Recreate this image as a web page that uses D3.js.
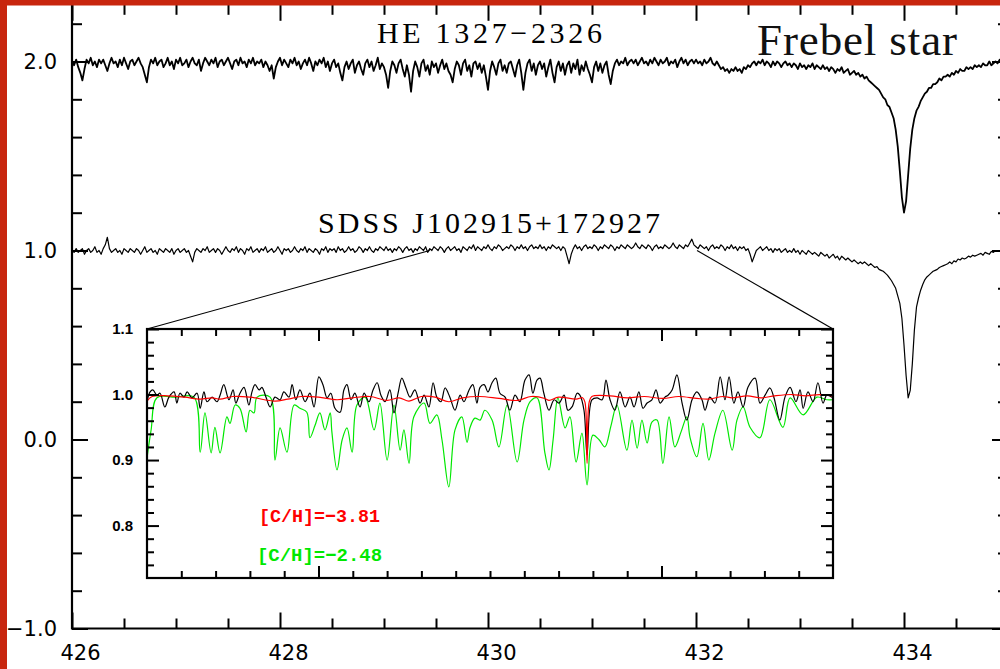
<!DOCTYPE html>
<html><head><meta charset="utf-8">
<script src="https://cdn.jsdelivr.net/npm/d3@7"></script>
<style>body{margin:0;background:#fff}svg{display:block}</style>
</head><body>
<svg id="c" width="1000" height="669"></svg>
<script>
// ---------------- DATA ----------------
const wlStart = 426.0, wlStep = 0.02;
const spectrumNames = ["HE 1327\u22122326", "SDSS J102915+172927"];
const starName = "Frebel star";
const spectrumOffsets = [1.0, 0.0];
const heFlux = [
1.00,0.98,1.01,0.97,0.94,0.90,0.96,1.01,0.99,1.02,0.98,1.00,0.97,1.01,0.99,
1.01,0.98,0.95,0.99,1.02,0.99,1.00,0.97,1.01,0.98,1.02,0.99,0.96,1.00,1.01,
0.98,1.00,1.02,0.99,0.97,0.93,0.89,0.97,1.01,0.99,1.02,0.98,1.00,1.01,0.97,
0.99,1.02,0.98,1.00,0.96,1.01,0.99,1.02,0.98,0.99,1.01,0.97,1.00,1.02,0.99,
0.98,1.01,0.95,0.99,1.02,1.00,0.98,1.01,0.99,1.02,0.97,1.00,1.01,0.98,1.00,
1.02,0.99,0.96,1.00,1.01,0.98,1.02,0.99,1.00,0.97,1.01,0.99,1.02,0.98,1.00,
0.99,1.01,0.97,1.00,0.98,0.95,0.98,0.91,0.97,1.00,1.02,0.98,1.01,0.99,0.97,
1.01,0.99,1.02,0.98,1.00,0.96,0.99,1.01,0.98,1.02,0.99,0.95,1.00,0.98,1.01,
0.99,1.02,0.97,1.00,0.95,0.99,1.01,0.97,0.99,0.94,0.90,0.97,1.00,0.96,0.99,
1.01,0.94,0.98,1.00,0.96,0.93,0.99,1.01,0.97,1.00,0.95,0.98,1.02,0.96,0.99,
0.97,0.93,0.86,0.95,1.00,0.98,0.94,0.99,1.01,0.96,0.92,0.98,0.93,0.84,0.95,
1.00,0.97,0.92,0.99,1.01,0.95,0.98,0.93,1.00,0.97,0.99,0.94,0.98,1.01,0.96,
0.99,0.95,0.93,0.89,0.96,1.00,0.98,0.93,0.99,1.01,0.95,0.98,0.92,0.99,1.00,
0.96,0.99,0.94,0.98,0.92,0.85,0.95,1.00,0.97,0.93,0.99,1.01,0.95,0.98,0.94,
0.99,1.00,0.96,0.92,0.98,1.01,0.94,0.85,0.94,0.99,1.01,0.95,0.99,0.93,0.98,
1.00,0.96,0.99,0.92,0.97,1.01,0.94,0.89,0.97,1.00,0.95,0.99,0.93,0.98,1.00,
0.94,0.99,0.96,1.01,0.93,0.98,0.95,1.00,0.96,0.93,0.89,0.97,1.00,0.95,0.99,
0.94,0.98,1.00,0.93,0.88,0.95,0.99,1.01,0.98,1.00,0.99,1.02,0.98,1.00,1.01,
0.99,1.01,0.98,1.00,1.02,0.99,1.00,0.98,1.01,0.99,1.02,1.00,0.98,1.01,0.99,
1.00,1.02,0.98,1.00,0.99,1.01,0.97,1.00,1.02,0.99,1.01,0.98,1.00,1.01,0.99,
1.01,0.99,1.00,0.98,1.01,0.99,1.00,1.02,0.99,0.98,1.00,0.98,0.96,0.97,0.95,
0.96,0.94,0.96,0.95,0.97,0.95,0.96,0.94,0.97,0.96,0.98,0.97,0.99,1.00,0.98,
1.00,0.99,1.01,0.98,1.00,0.99,0.97,1.00,0.98,1.00,0.99,0.97,0.99,1.00,0.98,
0.99,0.97,0.99,0.98,0.96,0.99,0.97,0.98,0.96,0.98,0.97,0.99,0.96,0.98,0.97,
0.96,0.98,0.96,0.97,0.95,0.97,0.96,0.94,0.96,0.95,0.97,0.94,0.95,0.96,0.93,
0.94,0.95,0.93,0.94,0.92,0.93,0.91,0.92,0.90,0.89,0.88,0.87,0.86,0.85,0.83,
0.81,0.80,0.77,0.76,0.73,0.70,0.64,0.55,0.42,0.28,0.20,0.26,0.40,0.54,0.64,
0.70,0.74,0.76,0.79,0.81,0.83,0.84,0.86,0.86,0.88,0.88,0.89,0.91,0.90,0.92,
0.92,0.93,0.92,0.94,0.93,0.95,0.94,0.96,0.95,0.95,0.97,0.96,0.97,0.96,0.98,
0.97,0.98,0.97,0.99,0.98,0.98,1.00,0.98,0.99,1.00,0.99,1.01,0.99,1.00,1.01,
1.00];
const sdssFlux = [
1.00,0.99,1.01,0.99,1.00,1.01,0.98,1.00,1.01,0.99,1.00,1.02,0.99,1.00,0.98,
1.01,1.03,1.07,1.01,0.99,1.00,1.01,0.99,1.00,0.98,1.01,1.00,0.99,1.01,1.00,
0.99,1.01,1.00,0.98,1.00,1.02,0.99,1.00,1.01,0.99,1.00,0.98,1.01,1.00,0.99,
1.01,1.00,0.99,1.01,0.98,1.00,1.01,0.99,1.00,1.01,0.99,1.00,0.97,0.94,0.99,
1.01,1.00,0.99,1.01,1.00,1.02,0.99,1.00,1.01,0.99,1.01,1.00,0.98,1.00,1.02,
1.00,0.99,1.01,1.00,1.02,0.99,1.01,1.00,0.98,1.01,1.00,1.02,0.99,1.00,1.01,
0.99,1.01,1.00,1.02,0.99,1.00,1.01,0.99,1.00,1.02,1.00,0.98,1.01,1.00,1.01,
0.99,1.00,1.02,1.00,0.99,1.01,1.00,1.02,0.99,1.01,1.00,0.99,1.01,1.00,0.98,
1.01,1.00,1.02,0.99,1.01,1.00,1.01,0.99,1.02,1.00,1.01,0.99,1.00,1.02,1.00,
1.01,0.99,1.00,1.02,1.01,0.99,1.01,1.00,1.02,1.00,0.99,1.01,1.00,1.02,1.01,
1.00,1.02,1.00,1.01,0.99,1.01,1.00,1.02,1.01,0.99,1.01,1.02,1.00,1.01,0.99,
1.01,1.00,1.02,1.01,1.00,1.02,0.99,1.01,1.00,1.02,1.01,1.00,1.02,1.01,0.99,
1.01,1.02,1.00,1.01,1.02,1.00,1.01,0.99,1.02,1.01,1.00,1.02,1.01,1.03,1.00,
1.02,1.01,1.00,1.02,1.01,1.03,1.01,1.00,1.02,1.01,1.03,1.02,1.00,1.01,1.02,
1.01,1.03,1.02,1.00,1.02,1.01,1.03,1.01,1.02,1.00,1.02,1.03,1.01,1.02,1.01,
1.03,1.01,1.02,1.00,1.02,1.01,1.03,1.02,1.01,1.02,1.00,1.02,1.01,0.97,0.93,
0.98,1.01,1.03,1.01,1.02,1.00,1.02,1.03,1.01,1.02,1.01,1.03,1.02,1.00,1.02,
1.01,1.03,1.02,1.01,1.03,1.02,1.00,1.02,1.01,1.03,1.02,1.01,1.03,1.02,1.01,
1.02,1.04,1.02,1.01,1.03,1.02,1.01,1.03,1.02,1.00,1.02,1.03,1.01,1.02,1.01,
1.03,1.02,1.01,1.02,1.04,1.02,1.01,1.03,1.02,1.01,1.03,1.02,1.04,1.06,1.03,
1.02,1.01,1.03,1.02,1.01,1.02,1.00,1.02,1.03,1.01,1.02,1.01,1.03,1.02,1.00,
1.02,1.01,1.03,1.01,1.02,1.00,1.02,1.01,1.02,1.00,1.01,0.98,0.94,0.97,1.00,
1.01,1.02,1.00,1.01,1.02,1.00,1.01,0.99,1.01,1.00,1.01,0.99,1.00,1.01,0.99,
1.00,0.99,1.01,0.99,1.00,0.98,1.00,0.99,0.98,1.00,0.99,0.98,0.99,0.98,0.97,
0.99,0.98,0.97,0.98,0.96,0.97,0.98,0.96,0.97,0.95,0.97,0.96,0.95,0.96,0.95,
0.94,0.95,0.94,0.93,0.94,0.93,0.94,0.93,0.92,0.93,0.92,0.91,0.915,0.90,0.895,
0.89,0.88,0.87,0.855,0.84,0.82,0.80,0.76,0.72,0.64,0.50,0.34,0.22,0.26,0.40,
0.58,0.70,0.75,0.79,0.82,0.845,0.86,0.87,0.88,0.89,0.895,0.90,0.91,0.915,0.92,
0.925,0.93,0.94,0.93,0.945,0.94,0.955,0.95,0.96,0.955,0.96,0.97,0.965,0.975,0.97,
0.975,0.98,0.985,0.975,0.99,0.985,0.98,0.995,0.99,1.00,0.995,1.00,0.99,1.01,1.00,
1.00];

// inset: observed (black) and synthetic spectra (red, green): [wavelength nm, normalized flux]
const insetObserved = [
[429.500,0.989],[429.509,1.004],[429.517,1.007],[429.529,0.999],[429.538,1.002],[429.552,0.981],[429.564,0.996],[429.579,1.004],[429.587,0.987],[429.596,1.002],
[429.608,0.996],[429.617,1.004],[429.631,0.995],[429.646,1.002],[429.655,0.979],[429.666,1.004],[429.675,0.989],[429.690,0.996],[429.704,0.989],[429.713,0.999],
[429.724,1.015],[429.739,0.992],[429.751,1.007],[429.759,0.987],[429.771,1.002],[429.783,1.011],[429.797,0.984],[429.806,1.004],[429.815,1.015],[429.827,1.007],
[429.835,1.011],[429.847,0.996],[429.859,0.981],[429.873,0.996],[429.888,0.992],[429.899,1.004],[429.914,0.996],[429.923,1.015],[429.934,0.992],[429.946,1.007],
[429.961,0.989],[429.975,1.002],[429.987,0.981],[430.001,1.027],[430.013,1.015],[430.025,0.995],[430.036,1.002],[430.048,0.979],[430.063,0.973],[430.074,1.007],
[430.083,1.015],[430.095,0.992],[430.106,1.002],[430.121,0.981],[430.133,1.002],[430.147,0.989],[430.159,1.007],[430.171,1.018],[430.182,0.999],[430.194,0.989],
[430.208,1.007],[430.220,0.972],[430.232,1.002],[430.243,1.025],[430.255,1.010],[430.267,0.996],[430.281,1.007],[430.296,0.987],[430.308,0.999],[430.322,0.981],
[430.334,1.018],[430.345,0.996],[430.357,0.989],[430.369,1.010],[430.383,0.996],[430.398,0.976],[430.413,0.999],[430.424,0.989],[430.439,1.007],[430.450,1.015],
[430.462,0.987],[430.471,1.011],[430.483,1.015],[430.494,1.004],[430.506,1.018],[430.517,1.025],[430.529,1.002],[430.544,0.996],[430.558,0.976],[430.573,0.999],
[430.587,0.989],[430.602,1.022],[430.614,1.030],[430.625,1.002],[430.637,1.022],[430.646,1.025],[430.657,1.002],[430.672,0.976],[430.687,0.992],[430.701,0.987],
[430.716,0.999],[430.727,0.976],[430.739,0.981],[430.754,1.002],[430.762,0.999],[430.774,0.976],[430.783,0.908],[430.797,0.992],[430.812,0.995],[430.827,0.992],
[430.838,1.022],[430.850,0.992],[430.864,0.976],[430.879,1.004],[430.894,0.981],[430.908,0.996],[430.920,0.981],[430.934,1.004],[430.946,0.979],[430.958,0.987],
[430.972,0.992],[430.984,1.007],[430.996,0.987],[431.010,0.996],[431.019,0.999],[431.031,1.007],[431.045,1.030],[431.060,0.987],[431.074,0.961],[431.089,0.992],
[431.103,1.004],[431.118,0.992],[431.127,0.976],[431.141,0.996],[431.156,0.987],[431.171,1.027],[431.185,0.992],[431.197,1.027],[431.211,0.987],[431.223,1.004],
[431.238,0.981],[431.252,1.011],[431.273,1.025],[431.287,0.987],[431.302,0.999],[431.316,1.010],[431.328,0.995],[431.345,0.961],[431.360,0.996],[431.375,1.011],
[431.392,0.989],[431.404,1.007],[431.413,0.979],[431.427,1.004],[431.442,0.989],[431.456,1.018],[431.471,0.987],[431.482,0.999],[431.500,0.995]];

const insetModelLow = [ // [C/H] = -3.81 (red)
[429.500,0.990],[429.515,0.997],[429.560,0.998],[429.610,0.996],[429.655,0.993],[429.690,0.995],[429.713,0.993],[429.750,0.997],
[429.800,0.996],[429.873,0.990],[429.910,0.993],[429.950,0.997],[430.000,0.996],[430.054,0.992],[430.100,0.995],[430.150,0.997],
[430.200,0.991],[430.235,0.995],[430.264,0.990],[430.300,0.997],[430.340,0.996],[430.380,0.989],[430.420,0.995],[430.470,0.997],
[430.526,0.994],[430.580,0.991],[430.620,0.997],[430.660,0.994],[430.672,0.991],[430.700,0.996],[430.751,0.993],[430.770,0.995],
[430.777,0.988],[430.783,0.895],[430.789,0.988],[430.797,0.997],[430.850,0.998],[430.900,0.995],[430.950,0.997],[431.004,0.994],
[431.050,0.997],[431.103,0.994],[431.138,0.993],[431.180,0.997],[431.206,0.995],[431.250,0.998],[431.290,0.995],[431.330,0.998],
[431.380,1.000],[431.420,0.998],[431.460,1.000],[431.500,0.998]];

const insetModelHigh = [ // [C/H] = -2.48 (green)
[429.500,0.903],[429.512,0.946],[429.529,0.995],[429.582,0.996],[429.637,0.996],[429.655,0.912],[429.669,0.972],[429.687,0.911],
[429.698,0.950],[429.713,0.911],[429.733,0.966],[429.742,0.956],[429.757,0.984],[429.771,0.979],[429.789,0.943],[429.800,0.976],
[429.812,0.972],[429.821,0.996],[429.859,0.996],[429.873,0.900],[429.888,0.949],[429.908,0.912],[429.929,0.984],[429.946,0.979],
[429.966,0.973],[429.975,0.934],[429.990,0.953],[430.004,0.972],[430.019,0.946],[430.034,0.972],[430.039,0.943],[430.054,0.885],
[430.069,0.931],[430.083,0.949],[430.098,0.912],[430.112,0.984],[430.136,0.996],[430.162,0.946],[430.179,0.987],[430.200,0.900],
[430.220,0.984],[430.238,0.915],[430.249,0.946],[430.264,0.895],[430.278,0.966],[430.308,0.987],[430.325,0.956],[430.345,0.969],
[430.360,0.931],[430.380,0.859],[430.398,0.946],[430.418,0.966],[430.433,0.927],[430.442,0.950],[430.456,0.964],[430.471,0.961],
[430.485,0.976],[430.506,0.961],[430.526,0.920],[430.550,0.984],[430.579,0.897],[430.599,0.961],[430.617,0.989],[430.637,0.995],
[430.660,0.911],[430.672,0.885],[430.684,0.931],[430.698,0.995],[430.719,0.949],[430.733,0.966],[430.751,0.897],[430.768,0.941],
[430.783,0.862],[430.800,0.938],[430.818,0.931],[430.835,0.920],[430.853,0.953],[430.870,0.984],[430.899,0.915],[430.914,0.961],
[430.929,0.918],[430.943,0.961],[430.958,0.926],[430.972,0.958],[430.987,0.961],[431.004,0.895],[431.022,0.966],[431.039,0.920],
[431.057,0.943],[431.074,0.966],[431.083,0.935],[431.103,0.905],[431.121,0.956],[431.138,0.900],[431.156,0.941],[431.179,0.976],
[431.206,0.915],[431.220,0.961],[431.238,0.981],[431.258,0.950],[431.287,0.934],[431.316,0.992],[431.354,0.950],[431.375,0.995],
[431.413,0.969],[431.453,0.996],[431.482,0.992],[431.500,0.992]];

const insetLegend = ["[C/H]=\u22123.81", "[C/H]=\u22122.48"];
const insetColors = ["#ff0000", "#00e800"];
const zoomLinkEnds = [[429.44, 1.0], [432.01, 1.0]];   // where the zoom lines meet the SDSS spectrum

const xDomain = [426, 435], yDomain = [-1, 2.3];
const xMajorTicks = [426, 428, 430, 432, 434];
const xTickLabels = ["426", "428", "430", "432", "434"];
const yMajorTicks = [-1, 0, 1, 2];
const yTickLabels = ["\u22121.0", "0.0", "1.0", "2.0"];
const insetXDomain = [429.5, 431.5], insetYDomain = [0.72, 1.1];
const insetXMajor = [430, 431];
const insetYMajor = [0.8, 0.9, 1.0, 1.1];
const insetYLabels = ["0.8", "0.9", "1.0", "1.1"];

// ---------------- DRAW ----------------
const svg = d3.select("#c");
const L = 72, R = 1008, T = 4.8, B = 628.5;
const x = d3.scaleLinear(xDomain, [L, R]);
const y = d3.scaleLinear(yDomain, [B, T]);

svg.append("rect").attr("width", 1000).attr("height", 669).attr("fill", "#fff");

svg.append("defs").append("clipPath").attr("id", "mainclip")
  .append("rect").attr("x", L).attr("y", T).attr("width", R - L).attr("height", B - T);

function styleAxis(g, sw) {
  g.select(".domain").remove();
  g.selectAll(".tick line").attr("stroke-width", sw).attr("stroke", "#000");
  g.selectAll("text").attr("fill", "#000");
}

const xMinor = d3.range(0, 19).map(k => 426 + k * 0.5).filter(v => !xMajorTicks.includes(v));
const yMinor = d3.range(-5, 12).map(k => k / 5).filter(v => !yMajorTicks.includes(Math.round(v * 1000) / 1000));

// bottom axis
svg.append("g").attr("transform", `translate(0,${B})`)
  .call(d3.axisBottom(x).tickValues(xMinor).tickSize(-10).tickFormat(""))
  .call(g => styleAxis(g, 2));
const gxb = svg.append("g").attr("transform", `translate(0,${B})`)
  .call(d3.axisBottom(x).tickValues(xMajorTicks).tickSize(-16).tickPadding(17)
        .tickFormat((d, i) => xTickLabels[i]))
  .call(g => styleAxis(g, 2));
gxb.attr("font-family", "DejaVu Sans").attr("font-size", 21);
gxb.selectAll("text").attr("dx", 8);
// top axis
svg.append("g").attr("transform", `translate(0,${T})`)
  .call(d3.axisTop(x).tickValues(xMinor).tickSize(-10).tickFormat(""))
  .call(g => styleAxis(g, 2));
svg.append("g").attr("transform", `translate(0,${T})`)
  .call(d3.axisTop(x).tickValues(xMajorTicks).tickSize(-16).tickFormat(""))
  .call(g => styleAxis(g, 2));
// left axis
svg.append("g").attr("transform", `translate(${L},0)`)
  .call(d3.axisLeft(y).tickValues(yMinor).tickSize(-10).tickFormat(""))
  .call(g => styleAxis(g, 2));
const gyl = svg.append("g").attr("transform", `translate(${L},0)`)
  .call(d3.axisLeft(y).tickValues(yMajorTicks).tickSize(-16).tickPadding(15)
        .tickFormat((d, i) => yTickLabels[i]))
  .call(g => styleAxis(g, 2));
gyl.attr("font-family", "DejaVu Sans").attr("font-size", 21);
// right axis
svg.append("g").attr("transform", `translate(${R},0)`)
  .call(d3.axisRight(y).tickValues(yMinor).tickSize(-10).tickFormat(""))
  .call(g => styleAxis(g, 2));
svg.append("g").attr("transform", `translate(${R},0)`)
  .call(d3.axisRight(y).tickValues(yMajorTicks).tickSize(-16).tickFormat(""))
  .call(g => styleAxis(g, 2));
// frame (left, bottom, right)
svg.append("path")
  .attr("d", `M${L},${T}V${B}H${R}V${T}`)
  .attr("fill", "none").attr("stroke", "#000").attr("stroke-width", 2.2);

// spectra
const specLine = off => d3.line()
  .x((d, i) => x(wlStart + i * wlStep))
  .y(d => y(d + off));
const gSpec = svg.append("g").attr("clip-path", "url(#mainclip)");
[heFlux, sdssFlux].forEach((arr, k) => {
  gSpec.append("path").datum(arr)
    .attr("d", specLine(spectrumOffsets[k]))
    .attr("fill", "none").attr("stroke", "#000")
    .attr("stroke-width", k === 0 ? 1.8 : 1.2)
    .attr("stroke-linejoin", "round");
});

// inset
const iL = 147, iR = 833, iT = 329, iB = 578;
const xi = d3.scaleLinear(insetXDomain, [iL, iR]);
const yi = d3.scaleLinear(insetYDomain, [iB, iT]);

// zoom link lines
svg.append("line").attr("x1", xi(insetXDomain[0])).attr("y1", yi(insetYDomain[1]))
  .attr("x2", x(zoomLinkEnds[0][0])).attr("y2", y(zoomLinkEnds[0][1] + spectrumOffsets[1]))
  .attr("stroke", "#000").attr("stroke-width", 1.1);
svg.append("line").attr("x1", xi(insetXDomain[1])).attr("y1", yi(insetYDomain[1]))
  .attr("x2", x(zoomLinkEnds[1][0])).attr("y2", y(zoomLinkEnds[1][1] + spectrumOffsets[1]))
  .attr("stroke", "#000").attr("stroke-width", 1.1);

svg.append("rect").attr("x", iL).attr("y", iT).attr("width", iR - iL).attr("height", iB - iT)
  .attr("fill", "#fff");
svg.select("defs").append("clipPath").attr("id", "insetclip")
  .append("rect").attr("x", iL).attr("y", iT).attr("width", iR - iL).attr("height", iB - iT);

const gIn = svg.append("g").attr("clip-path", "url(#insetclip)");
const insetLine = d3.line().x(d => xi(d[0])).y(d => yi(d[1])).curve(d3.curveCatmullRom.alpha(0.5));
gIn.append("path").datum(insetModelHigh).attr("d", insetLine)
  .attr("fill", "none").attr("stroke", insetColors[1]).attr("stroke-width", 1.2);
gIn.append("path").datum(insetObserved).attr("d", insetLine)
  .attr("fill", "none").attr("stroke", "#000").attr("stroke-width", 1.2);
gIn.append("path").datum(insetModelLow).attr("d", insetLine)
  .attr("fill", "none").attr("stroke", insetColors[0]).attr("stroke-width", 1.2);

// inset axes
const ixMinor = d3.range(1, 20).map(k => 429.5 + k * 0.1).filter(v => !insetXMajor.some(m => Math.abs(m - v) < 1e-6));
const iyMinor = d3.range(37, 55).map(k => k / 50).filter(v => !insetYMajor.some(m => Math.abs(m - v) < 1e-6));
svg.append("g").attr("transform", `translate(0,${iB})`)
  .call(d3.axisBottom(xi).tickValues(ixMinor).tickSize(-7).tickFormat("")).call(g => styleAxis(g, 2));
svg.append("g").attr("transform", `translate(0,${iB})`)
  .call(d3.axisBottom(xi).tickValues(insetXMajor).tickSize(-12).tickFormat("")).call(g => styleAxis(g, 2));
svg.append("g").attr("transform", `translate(0,${iT})`)
  .call(d3.axisTop(xi).tickValues(ixMinor).tickSize(-7).tickFormat("")).call(g => styleAxis(g, 2));
svg.append("g").attr("transform", `translate(0,${iT})`)
  .call(d3.axisTop(xi).tickValues(insetXMajor).tickSize(-12).tickFormat("")).call(g => styleAxis(g, 2));
svg.append("g").attr("transform", `translate(${iL},0)`)
  .call(d3.axisLeft(yi).tickValues(iyMinor).tickSize(-7).tickFormat("")).call(g => styleAxis(g, 2));
const giy = svg.append("g").attr("transform", `translate(${iL},0)`)
  .call(d3.axisLeft(yi).tickValues(insetYMajor).tickSize(-12).tickPadding(14)
        .tickFormat((d, i) => insetYLabels[i])).call(g => styleAxis(g, 2));
giy.attr("font-family", "Liberation Sans").attr("font-size", 15).attr("font-weight", "bold");
svg.append("g").attr("transform", `translate(${iR},0)`)
  .call(d3.axisRight(yi).tickValues(iyMinor).tickSize(-7).tickFormat("")).call(g => styleAxis(g, 2));
svg.append("g").attr("transform", `translate(${iR},0)`)
  .call(d3.axisRight(yi).tickValues(insetYMajor).tickSize(-12).tickFormat("")).call(g => styleAxis(g, 2));
svg.append("rect").attr("x", iL).attr("y", iT).attr("width", iR - iL).attr("height", iB - iT)
  .attr("fill", "none").attr("stroke", "#000").attr("stroke-width", 2.2);

// inset legend
const legendPos = [[259, 522, 121], [257, 561, 125]];
insetLegend.forEach((t, k) => {
  svg.append("text").text(t)
    .attr("x", legendPos[k][0]).attr("y", legendPos[k][1])
    .attr("textLength", legendPos[k][2]).attr("lengthAdjust", "spacingAndGlyphs")
    .attr("font-family", "Liberation Mono").attr("font-weight", "bold").attr("font-size", 19)
    .attr("fill", insetColors[k]);
});

// labels
svg.append("text").text(spectrumNames[0]).attr("x", 377).attr("y", 43)
  .attr("font-family", "Liberation Serif").attr("font-size", 30)
  .attr("textLength", 225).attr("lengthAdjust", "spacing").attr("fill", "#000");
svg.append("text").text(spectrumNames[1]).attr("x", 318).attr("y", 233)
  .attr("font-family", "Liberation Serif").attr("font-size", 30)
  .attr("textLength", 342).attr("lengthAdjust", "spacing").attr("fill", "#000");
svg.append("text").text(starName).attr("x", 757).attr("y", 55)
  .attr("font-family", "Liberation Serif").attr("font-size", 45)
  .attr("textLength", 200).attr("lengthAdjust", "spacing").attr("fill", "#111");

// slide frame (red bands)
svg.append("rect").attr("x", 0).attr("y", 0).attr("width", 1000).attr("height", 5.5).attr("fill", "#c8260e");
svg.append("rect").attr("x", 0).attr("y", 0).attr("width", 7).attr("height", 669).attr("fill", "#c8260e");
</script>
</body></html>
